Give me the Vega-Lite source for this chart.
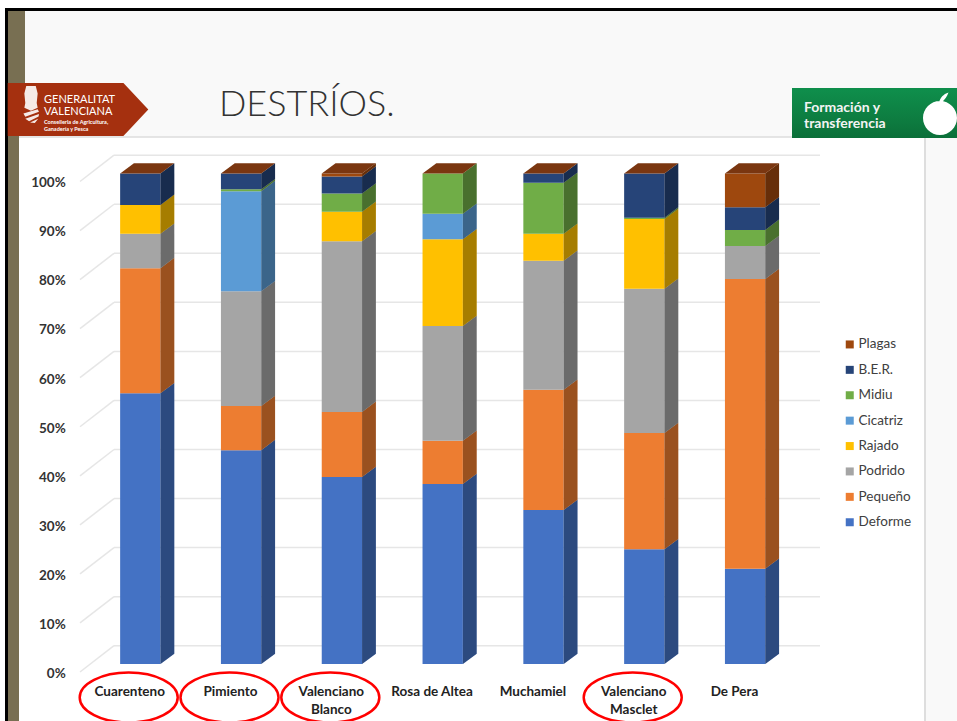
{
"$schema":"https://vega.github.io/schema/vega-lite/v6.json",
"width":957,"height":721,"padding":0,"autosize":{"type":"none"},
"background":"#f9f9f9",
"data":{"values":[{}]},
"config":{"view":{"stroke":null},"axis":{"disable":true},"font":"Lato"},
"datasets":{
"destrios":[
{"variedad":"Cuarenteno","serie":"Deforme","valor":55.2},{"variedad":"Cuarenteno","serie":"Pequeño","valor":25.5},{"variedad":"Cuarenteno","serie":"Podrido","valor":7.0},{"variedad":"Cuarenteno","serie":"Rajado","valor":5.9},{"variedad":"Cuarenteno","serie":"B.E.R.","valor":6.4},
{"variedad":"Pimiento","serie":"Deforme","valor":43.6},{"variedad":"Pimiento","serie":"Pequeño","valor":9.0},{"variedad":"Pimiento","serie":"Podrido","valor":23.4},{"variedad":"Pimiento","serie":"Cicatriz","valor":20.4},{"variedad":"Pimiento","serie":"Midiu","valor":0.4},{"variedad":"Pimiento","serie":"B.E.R.","valor":3.2},
{"variedad":"Valenciano Blanco","serie":"Deforme","valor":38.1},{"variedad":"Valenciano Blanco","serie":"Pequeño","valor":13.3},{"variedad":"Valenciano Blanco","serie":"Podrido","valor":34.8},{"variedad":"Valenciano Blanco","serie":"Rajado","valor":6.0},{"variedad":"Valenciano Blanco","serie":"Midiu","valor":3.7},{"variedad":"Valenciano Blanco","serie":"B.E.R.","valor":3.5},{"variedad":"Valenciano Blanco","serie":"Plagas","valor":0.6},
{"variedad":"Rosa de Altea","serie":"Deforme","valor":36.7},{"variedad":"Rosa de Altea","serie":"Pequeño","valor":8.8},{"variedad":"Rosa de Altea","serie":"Podrido","valor":23.4},{"variedad":"Rosa de Altea","serie":"Rajado","valor":17.7},{"variedad":"Rosa de Altea","serie":"Cicatriz","valor":5.2},{"variedad":"Rosa de Altea","serie":"Midiu","valor":8.2},
{"variedad":"Muchamiel","serie":"Deforme","valor":31.4},{"variedad":"Muchamiel","serie":"Pequeño","valor":24.5},{"variedad":"Muchamiel","serie":"Podrido","valor":26.3},{"variedad":"Muchamiel","serie":"Rajado","valor":5.5},{"variedad":"Muchamiel","serie":"Midiu","valor":10.4},{"variedad":"Muchamiel","serie":"B.E.R.","valor":1.9},
{"variedad":"Valenciano Masclet","serie":"Deforme","valor":23.4},{"variedad":"Valenciano Masclet","serie":"Pequeño","valor":23.7},{"variedad":"Valenciano Masclet","serie":"Podrido","valor":29.4},{"variedad":"Valenciano Masclet","serie":"Rajado","valor":14.2},{"variedad":"Valenciano Masclet","serie":"Midiu","valor":0.3},{"variedad":"Valenciano Masclet","serie":"B.E.R.","valor":9.0},
{"variedad":"De Pera","serie":"Deforme","valor":19.4},{"variedad":"De Pera","serie":"Pequeño","valor":59.1},{"variedad":"De Pera","serie":"Podrido","valor":6.7},{"variedad":"De Pera","serie":"Midiu","valor":3.3},{"variedad":"De Pera","serie":"B.E.R.","valor":4.6},{"variedad":"De Pera","serie":"Plagas","valor":6.9}
],
"variedades":[{"variedad":"Cuarenteno","i":0},{"variedad":"Pimiento","i":1},{"variedad":"Valenciano\nBlanco","i":2},{"variedad":"Rosa de Altea","i":3},{"variedad":"Muchamiel","i":4},{"variedad":"Valenciano\nMasclet","i":5},{"variedad":"De Pera","i":6}],
"ticks":[{"t":0},{"t":10},{"t":20},{"t":30},{"t":40},{"t":50},{"t":60},{"t":70},{"t":80},{"t":90},{"t":100}]
},
"layer":[
{"mark":{"type":"rect","fill":"#ffffff"},"encoding":{"x":{"datum":-1.39187,"type":"quantitative","scale":{"domain":[-1.39187,8.10218],"nice":false,"zero":false}},"x2":{"datum":8.10218},"y":{"datum":133.74,"type":"quantitative","scale":{"domain":[-11.621,135.372],"nice":false,"zero":false}},"y2":{"datum":135.372}}},
{"mark":{"type":"rect","fill":"#ffffff"},"encoding":{"x":{"datum":-1.39187,"type":"quantitative"},"x2":{"datum":-1.3423},"y":{"datum":-11.621,"type":"quantitative"},"y2":{"datum":135.372}}},
{"mark":{"type":"rect","fill":"#000000"},"encoding":{"x":{"datum":-1.3423,"type":"quantitative"},"x2":{"datum":8.10218},"y":{"datum":133.13,"type":"quantitative"},"y2":{"datum":133.74}}},
{"mark":{"type":"rect","fill":"#000000"},"encoding":{"x":{"datum":-1.3423,"type":"quantitative"},"x2":{"datum":-1.3125},"y":{"datum":-11.621,"type":"quantitative"},"y2":{"datum":133.74}}},
{"mark":{"type":"rect","fill":"#786f52"},"encoding":{"x":{"datum":-1.3125,"type":"quantitative"},"x2":{"datum":-1.1438},"y":{"datum":118.45,"type":"quantitative"},"y2":{"datum":133.13}}},
{"mark":{"type":"rect","fill":"#786f52"},"encoding":{"x":{"datum":-1.3125,"type":"quantitative"},"x2":{"datum":-1.2034},"y":{"datum":-11.621,"type":"quantitative"},"y2":{"datum":118.45}}},
{"mark":{"type":"rect","fill":"#ffffff"},"encoding":{"x":{"datum":-1.2034,"type":"quantitative"},"x2":{"datum":7.7847},"y":{"datum":-11.621,"type":"quantitative"},"y2":{"datum":107.44}}},
{"mark":{"type":"rule","stroke":"#dcdcdc","strokeWidth":1.5},"encoding":{"x":{"datum":-1.2034,"type":"quantitative"},"x2":{"datum":7.7847},"y":{"datum":107.44,"type":"quantitative"}}},
{"mark":{"type":"rule","stroke":"#d4d4d4","strokeWidth":1.5},"encoding":{"x":{"datum":7.7847,"type":"quantitative"},"y":{"datum":-11.621,"type":"quantitative"},"y2":{"datum":107.44}}},
{"data":{"name":"ticks"},"transform":[{"calculate":"datum.t-1.63","as":"yf"},{"calculate":"datum.t+3.73","as":"yb"},{"calculate":"datum.t+'%'","as":"rotulo"},{"calculate":"datum.t-2.0","as":"yt"}],
"layer":[
{"mark":{"type":"rule","stroke":"#e6e6e6","strokeWidth":1.5},"encoding":{"x":{"datum":-0.2609,"type":"quantitative"},"x2":{"datum":6.7431},"y":{"field":"yb","type":"quantitative"}}},
{"mark":{"type":"rule","stroke":"#e6e6e6","strokeWidth":1.5},"encoding":{"x":{"datum":-0.5982,"type":"quantitative"},"x2":{"datum":-0.2609},"y":{"field":"yf","type":"quantitative"},"y2":{"field":"yb"}}},
{"mark":{"type":"text","align":"right","baseline":"middle","fontSize":13.5,"fontWeight":"bold","font":"Lato","color":"#333333"},"encoding":{"x":{"datum":-0.74,"type":"quantitative"},"y":{"field":"yt","type":"quantitative"},"text":{"field":"rotulo"}}}
]},
{"data":{"name":"destrios"},"transform":[
{"calculate":"indexof(['Deforme','Pequeño','Podrido','Rajado','Cicatriz','Midiu','B.E.R.','Plagas'],datum.serie)","as":"orden"},
{"calculate":"indexof(['Cuarenteno','Pimiento','Valenciano Blanco','Rosa de Altea','Muchamiel','Valenciano Masclet','De Pera'],datum.variedad)","as":"i"},
{"stack":"valor","groupby":["variedad"],"sort":[{"field":"orden","order":"ascending"}],"as":["y0","y1"]},
{"calculate":"datum.i-0.2","as":"xl"},{"calculate":"datum.i+0.2","as":"xr"}
],
"layer":[
{"mark":{"type":"rect"},"encoding":{"x":{"field":"xl","type":"quantitative"},"x2":{"field":"xr"},"y":{"field":"y0","type":"quantitative"},"y2":{"field":"y1"},
"color":{"field":"serie","type":"nominal","scale":{"domain":["Plagas","B.E.R.","Midiu","Cicatriz","Rajado","Podrido","Pequeño","Deforme"],"range":["#9e480e","#264478","#70ad47","#5b9bd5","#ffc000","#a5a5a5","#ed7d31","#4472c4"]},
"legend":{"title":null,"orient":"none","legendX":843,"legendY":337.7,"padding":0,"symbolType":"square","symbolSize":64,"symbolStrokeWidth":0,"labelFont":"Lato","labelFontSize":13.5,"labelColor":"#404040","labelOffset":2,"rowPadding":10.4,"labelLimit":100}}}},
{"transform":[{"calculate":"0","as":"d0"},{"calculate":"1","as":"d1"},{"fold":["d0","d1"],"as":["lado","d"]},{"calculate":"datum.xr+0.137*datum.d","as":"xs"},{"calculate":"datum.y0+2.1*datum.d","as":"ya"},{"calculate":"datum.y1+2.1*datum.d","as":"yb"}],
"layer":[
{"mark":{"type":"area","orient":"vertical"},"encoding":{"x":{"field":"xs","type":"quantitative"},"y":{"field":"ya","type":"quantitative","stack":null},"y2":{"field":"yb"},"color":{"field":"serie","type":"nominal","legend":null},"detail":{"field":"i"}}},
{"mark":{"type":"area","orient":"vertical","fill":"#000000","fillOpacity":0.35},"encoding":{"x":{"field":"xs","type":"quantitative"},"y":{"field":"ya","type":"quantitative","stack":null},"y2":{"field":"yb"},"detail":[{"field":"i"},{"field":"serie"}]}}
]}
]},
{"data":{"name":"variedades"},"transform":[{"calculate":"0","as":"d0"},{"calculate":"1","as":"d1"},{"fold":["d0","d1"],"as":["lado","d"]},{"calculate":"datum.i-0.2+0.137*datum.d","as":"xa"},{"calculate":"datum.i+0.2+0.137*datum.d","as":"xb"},{"calculate":"100+2.1*datum.d","as":"yt"}],
"mark":{"type":"area","orient":"horizontal","fill":"#7a3610"},"encoding":{"y":{"field":"yt","type":"quantitative","stack":null},"x":{"field":"xa","type":"quantitative","stack":null},"x2":{"field":"xb"},"detail":{"field":"i"}}},
{"data":{"name":"variedades"},"transform":[{"calculate":"datum.i-0.105","as":"xe"}],
"layer":[
{"mark":{"type":"text","align":"center","baseline":"top","fontSize":13.5,"fontWeight":"bold","font":"Lato","lineBreak":"\n","lineHeight":18,"color":"#222222"},"encoding":{"x":{"field":"xe","type":"quantitative"},"y":{"datum":-4.28,"type":"quantitative"},"text":{"field":"variedad"}}},
{"transform":[{"filter":"datum.i==0||datum.i==1||datum.i==2||datum.i==5"},{"calculate":"datum.i-0.115","as":"xc"}],
"mark":{"type":"point","filled":false,"stroke":"#ff0000","strokeWidth":2.5,"opacity":1,"size":9604,"shape":"M-1 0 A1 .51 0 1 1 1 0 A1 .51 0 1 1 -1 0 Z"},"encoding":{"x":{"field":"xc","type":"quantitative"},"y":{"datum":-6.83,"type":"quantitative"}}}
]},
{"mark":{"type":"point","filled":true,"fill":"#a5300f","opacity":1,"size":19768,"shape":"M-1 -.377 L.646 -.377 L1 0 L.646 .377 L-1 .377 Z"},"encoding":{"x":{"datum":-0.6181,"type":"quantitative"},"y":{"datum":113.05,"type":"quantitative"}}},
{"mark":{"type":"point","filled":true,"fill":"#ffffff","opacity":0.9,"size":1444,"shape":"M-.25 -1 L.25 -1 L.35 -.6 L.3 -.1 L.35 .15 L0 .3 L-.35 .15 L-.3 -.1 L-.35 -.6 Z M-.4 .45 L.35 .22 L.42 .35 L-.3 .62 Z M-.3 .72 L.42 .48 L.4 .6 L-.1 .85 Z M-.05 .92 L.38 .72 L.2 .95 Z"},"encoding":{"x":{"datum":-1.0843,"type":"quantitative"},"y":{"datum":113.97,"type":"quantitative"}}},
{"mark":{"type":"text","text":"GENERALITAT","align":"left","baseline":"alphabetic","fontSize":11,"font":"Lato","color":"#ffffff"},"encoding":{"x":{"datum":-0.9554,"type":"quantitative"},"y":{"datum":114.4,"type":"quantitative"}}},
{"mark":{"type":"text","text":"VALENCIANA","align":"left","baseline":"alphabetic","fontSize":11,"font":"Lato","color":"#ffffff"},"encoding":{"x":{"datum":-0.9554,"type":"quantitative"},"y":{"datum":111.93,"type":"quantitative"}}},
{"mark":{"type":"text","text":"Conselleria de Agricultura,","align":"left","baseline":"alphabetic","fontSize":5.5,"fontWeight":"bold","font":"Lato","color":"#ffffff"},"encoding":{"x":{"datum":-0.9554,"type":"quantitative"},"y":{"datum":110.0,"type":"quantitative"}}},
{"mark":{"type":"text","text":"Ganadería y Pesca","align":"left","baseline":"alphabetic","fontSize":5.5,"fontWeight":"bold","font":"Lato","color":"#ffffff"},"encoding":{"x":{"datum":-0.9554,"type":"quantitative"},"y":{"datum":108.67,"type":"quantitative"}}},
{"mark":{"type":"text","text":"DESTRÍOS.","align":"left","baseline":"alphabetic","fontSize":36,"fontWeight":300,"font":"Lato","color":"#333333"},"encoding":{"x":{"datum":0.7807,"type":"quantitative"},"y":{"datum":111.72,"type":"quantitative"}}},
{"mark":{"type":"rect","fill":{"x1":0,"y1":0,"x2":0,"y2":1,"gradient":"linear","stops":[{"offset":0,"color":"#0f8f4c"},{"offset":0.7,"color":"#0d7a3f"},{"offset":1,"color":"#0b6f39"}]}},"encoding":{"x":{"datum":6.4653,"type":"quantitative"},"x2":{"datum":8.10218},"y":{"datum":107.24,"type":"quantitative"},"y2":{"datum":117.43}}},
{"mark":{"type":"text","text":"Formación y","align":"left","baseline":"alphabetic","fontSize":14,"fontWeight":"bold","font":"Lato","color":"#f4f4f4"},"encoding":{"x":{"datum":6.584,"type":"quantitative"},"y":{"datum":112.54,"type":"quantitative"}}},
{"mark":{"type":"text","text":"transferencia","align":"left","baseline":"alphabetic","fontSize":14,"fontWeight":"bold","font":"Lato","color":"#f4f4f4"},"encoding":{"x":{"datum":6.584,"type":"quantitative"},"y":{"datum":109.28,"type":"quantitative"}}},
{"mark":{"type":"point","filled":true,"fill":"#ffffff","opacity":1,"size":1156,"shape":"M-1 0 A1 1 0 1 1 1 0 A1 1 0 1 1 -1 0 Z M-.05 -.9 C0 -1.2 .2 -1.4 .5 -1.5 C.4 -1.25 .3 -1.1 .08 -.9 Z"},"encoding":{"x":{"datum":7.9335,"type":"quantitative"},"y":{"datum":111.32,"type":"quantitative"}}}
]
}
